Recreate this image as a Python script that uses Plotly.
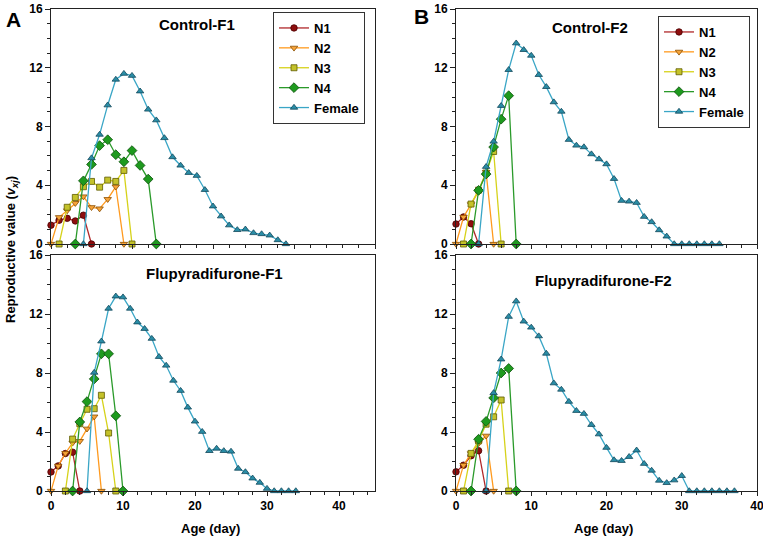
import plotly.graph_objects as go

# ---------------- DATA ----------------
series_names = ["N1", "N2", "N3", "N4", "Female"]

# Control-F1
cf1_n1_x = [0, 1, 2, 3, 4, 5]
cf1_n1_y = [1.28, 1.62, 1.75, 1.57, 1.96, 0]
cf1_n2_x = [0, 1, 2, 3, 4, 5, 6, 7, 8, 9]
cf1_n2_y = [0, 1.82, 2.28, 2.78, 3.23, 2.5, 2.41, 3.05, 3.9, 0]
cf1_n3_x = [1, 2, 3, 4, 5, 6, 7, 8, 9, 10]
cf1_n3_y = [0, 2.5, 3.17, 3.9, 4.26, 3.87, 4.35, 4.26, 5.01, 0]
cf1_n4_x = [3, 4, 5, 6, 7, 8, 9, 10, 11, 12, 13]
cf1_n4_y = [0, 4.3, 5.42, 6.7, 7.1, 6.08, 5.6, 6.36, 5.35, 4.42, 0]
cf1_f_x = list(range(4, 30))
cf1_f_y = [0, 5.85, 7.45, 9.45, 11.2, 11.6, 11.46, 10.4, 9.16, 8.43, 7.22, 5.92,
           5.35, 4.85, 4.65, 3.69, 2.57, 1.89, 1.28, 0.96, 1.0, 0.75, 0.68, 0.59,
           0.27, 0]

# Flupyradifurone-F1
ff1_n1_x = [0, 1, 2, 3, 4]
ff1_n1_y = [1.29, 1.70, 2.54, 2.63, 0]
ff1_n2_x = [0, 1, 2, 3, 4, 5, 6, 7]
ff1_n2_y = [0, 1.70, 2.56, 3.27, 3.38, 4.22, 5.04, 0]
ff1_n3_x = [2, 3, 4, 5, 6, 7, 8, 9]
ff1_n3_y = [0, 3.52, 4.56, 5.54, 5.58, 6.49, 3.93, 0]
ff1_n4_x = [3, 4, 5, 6, 7, 8, 9, 10]
ff1_n4_y = [0, 4.68, 6.06, 7.6, 9.3, 9.3, 5.1, 0]
ff1_f_x = list(range(5, 35))
ff1_f_y = [0, 8.03, 10.15, 12.37, 13.2, 13.14, 12.37, 11.44, 11.0, 10.33, 9.1,
           8.51, 7.49, 6.8, 5.67, 4.72, 4.02, 2.72, 2.88, 2.72, 2.68, 1.52, 1.29,
           0.86, 0.57, 0.16, 0, 0, 0, 0]

# Control-F2
cf2_n1_x = [0, 1, 2, 3]
cf2_n1_y = [1.36, 1.84, 1.38, 0]
cf2_n2_x = [0, 1, 2, 3, 4, 5]
cf2_n2_y = [0, 1.84, 2.7, 3.6, 4.9, 0]
cf2_n3_x = [1, 2, 3, 4, 5, 6]
cf2_n3_y = [0, 2.72, 3.67, 4.83, 6.3, 0]
cf2_n4_x = [2, 3, 4, 5, 6, 7, 8]
cf2_n4_y = [0, 3.65, 4.76, 6.6, 8.5, 10.1, 0]
cf2_f_x = list(range(3, 36))
cf2_f_y = [0, 5.26, 6.98, 9.41, 11.86, 13.67, 13.22, 12.83, 11.52, 10.7, 9.66,
           9.02, 7.1, 6.71, 6.6, 6.12, 5.78, 5.44, 4.44, 2.95, 2.9, 2.81, 1.86,
           1.5, 0.95, 0.52, 0, 0, 0, 0, 0, 0, 0]

# Flupyradifurone-F2
ff2_n1_x = [0, 1, 2, 3, 4]
ff2_n1_y = [1.30, 1.75, 2.39, 2.73, 0]
ff2_n2_x = [0, 1, 2, 3, 4, 5]
ff2_n2_y = [0, 1.75, 2.55, 3.23, 3.74, 0]
ff2_n3_x = [1, 2, 3, 4, 5, 6, 7]
ff2_n3_y = [0, 2.55, 3.4, 4.53, 5.03, 6.17, 0]
ff2_n4_x = [2, 3, 4, 5, 6, 7, 8]
ff2_n4_y = [0, 3.51, 4.72, 6.31, 8.0, 8.31, 0]
ff2_f_x = list(range(4, 38))
ff2_f_y = [0, 6.65, 8.93, 11.82, 12.87, 11.5, 11.09, 10.5, 9.32, 7.31, 6.88,
           6.06, 5.44, 5.24, 4.49, 3.85, 2.94, 2.1, 2.05, 2.32, 2.76, 1.85, 1.39,
           0.71, 0.55, 0.73, 1.03, 0, 0, 0, 0, 0, 0, 0]

y_ticks = [0, 4, 8, 12, 16]
x_ticks = [0, 10, 20, 30, 40]
panel_titles = ["Control-F1", "Flupyradifurone-F1", "Control-F2", "Flupyradifurone-F2"]

# ---------------- STYLE ----------------
FONT = "Liberation Sans, Arial, sans-serif"
styles = {
    "N1": dict(line="#B0282A", fill="#8E0E0E", edge="#4A0000", symbol="circle", size=6.5),
    "N2": dict(line="#FF9A1E", fill="#F7A43A", edge="#8A4E00", symbol="triangle-down", size=6.5),
    "N3": dict(line="#D6D21A", fill="#C4C22A", edge="#5E5A00", symbol="square", size=6),
    "N4": dict(line="#2A9A2A", fill="#1E9A1E", edge="#0B4F0B", symbol="diamond", size=7.5),
    "Female": dict(line="#3AA6C6", fill="#2A8DA6", edge="#12485A", symbol="triangle-up", size=6.5),
}

panels = [
    ("x", "y", "legend", True,
     [(cf1_n1_x, cf1_n1_y), (cf1_n2_x, cf1_n2_y), (cf1_n3_x, cf1_n3_y), (cf1_n4_x, cf1_n4_y), (cf1_f_x, cf1_f_y)]),
    ("x2", "y2", None, False,
     [(ff1_n1_x, ff1_n1_y), (ff1_n2_x, ff1_n2_y), (ff1_n3_x, ff1_n3_y), (ff1_n4_x, ff1_n4_y), (ff1_f_x, ff1_f_y)]),
    ("x3", "y3", "legend2", True,
     [(cf2_n1_x, cf2_n1_y), (cf2_n2_x, cf2_n2_y), (cf2_n3_x, cf2_n3_y), (cf2_n4_x, cf2_n4_y), (cf2_f_x, cf2_f_y)]),
    ("x4", "y4", None, False,
     [(ff2_n1_x, ff2_n1_y), (ff2_n2_x, ff2_n2_y), (ff2_n3_x, ff2_n3_y), (ff2_n4_x, ff2_n4_y), (ff2_f_x, ff2_f_y)]),
]

fig = go.Figure()
for xa, ya, leg, show, data in panels:
    for name, (xs, ys) in zip(series_names, data):
        s = styles[name]
        kw = dict(x=xs, y=ys, name=name, mode="lines+markers", xaxis=xa, yaxis=ya,
                  line=dict(color=s["line"], width=1.3),
                  marker=dict(symbol=s["symbol"], size=s["size"], color=s["fill"],
                              line=dict(color=s["edge"], width=0.8)),
                  cliponaxis=False, showlegend=show)
        if leg:
            kw["legend"] = leg
        fig.add_trace(go.Scatter(**kw))

W, H = 763, 540
def fx(px): return px / W
def fy(py): return 1 - py / H

tickfont = dict(family=FONT, size=12, color="black", weight="bold")

def xaxis(dom_x, rng, labels, anchor):
    return dict(domain=dom_x, range=rng, anchor=anchor, showline=True, linecolor="#222",
                linewidth=1, mirror=True, ticks="outside", ticklen=4, tickcolor="#222",
                tickvals=x_ticks, showticklabels=labels, tickfont=tickfont,
                ticklabeloverflow="allow",
                showgrid=False, zeroline=False, automargin=False,
                minor=dict(dtick=2, tick0=0, ticks="outside", ticklen=3, tickcolor="#222", showgrid=False))

def yaxis(dom_y, anchor):
    return dict(domain=dom_y, range=[0, 16], anchor=anchor, showline=True, linecolor="#222",
                linewidth=1, mirror=True, ticks="outside", ticklen=5, tickcolor="#222",
                tickvals=y_ticks, tickfont=tickfont, showgrid=False, zeroline=False,
                automargin=False, ticklabeloverflow="allow",
                minor=dict(dtick=1, tick0=0, ticks="outside", ticklen=3, tickcolor="#222", showgrid=False))

A_x = [fx(51), fx(375)]
B_x = [fx(456), fx(757)]
top_y = [fy(244), fy(9)]
bot_y = [fy(491), fy(255)]

legend_common = dict(font=dict(family=FONT, size=13, color="black", weight="bold"),
                     bgcolor="white", bordercolor="#333", borderwidth=1,
                     xanchor="left", yanchor="top", xref="paper", yref="paper",
                     tracegroupgap=0, itemwidth=30)

fig.update_layout(
    width=W, height=H, margin=dict(l=0, r=0, t=0, b=0, autoexpand=False),
    paper_bgcolor="white", plot_bgcolor="white",
    font=dict(family=FONT, color="black"),
    hovermode=False,
    xaxis=xaxis(A_x, [0, 40], False, "y"),
    yaxis=yaxis(top_y, "x"),
    xaxis2=xaxis(A_x, [0, 45], True, "y2"),
    yaxis2=yaxis(bot_y, "x2"),
    xaxis3=xaxis(B_x, [0, 40], False, "y3"),
    yaxis3=yaxis(top_y, "x3"),
    xaxis4=xaxis(B_x, [0, 40], True, "y4"),
    yaxis4=yaxis(bot_y, "x4"),
    legend=dict(x=fx(273), y=fy(12), **legend_common),
    legend2=dict(x=fx(658), y=fy(16), **legend_common),
)

ann = []
title_pos = [(197, 25), (214, 273), (590, 27), (603, 280)]
for t, (px, py) in zip(panel_titles, title_pos):
    ann.append(dict(text=t, x=fx(px), y=fy(py), xref="paper", yref="paper", showarrow=False,
                    xanchor="center", yanchor="middle",
                    font=dict(family=FONT, size=15, color="black", weight="bold")))
ann.append(dict(text="A", x=fx(13), y=fy(20), xref="paper", yref="paper", showarrow=False,
                xanchor="center", yanchor="middle", font=dict(family=FONT, size=21, color="black", weight="bold")))
ann.append(dict(text="B", x=fx(421), y=fy(17), xref="paper", yref="paper", showarrow=False,
                xanchor="center", yanchor="middle", font=dict(family=FONT, size=21, color="black", weight="bold")))
ann.append(dict(text="Reproductive value (<i>v</i><sub><i>xj</i></sub>)", x=fx(11), y=fy(250),
                xref="paper", yref="paper", showarrow=False, textangle=-90,
                xanchor="center", yanchor="middle", font=dict(family=FONT, size=13, color="black", weight="bold")))
for px in (210, 603):
    ann.append(dict(text="Age (day)", x=fx(px), y=fy(528), xref="paper", yref="paper", showarrow=False,
                    xanchor="center", yanchor="middle", font=dict(family=FONT, size=13, color="black", weight="bold")))
fig.update_layout(annotations=ann)

fig.write_html("out.html", config={"displayModeBar": False},
               post_script="document.body.style.margin='0';document.body.style.padding='0';document.body.style.overflow='hidden';")
